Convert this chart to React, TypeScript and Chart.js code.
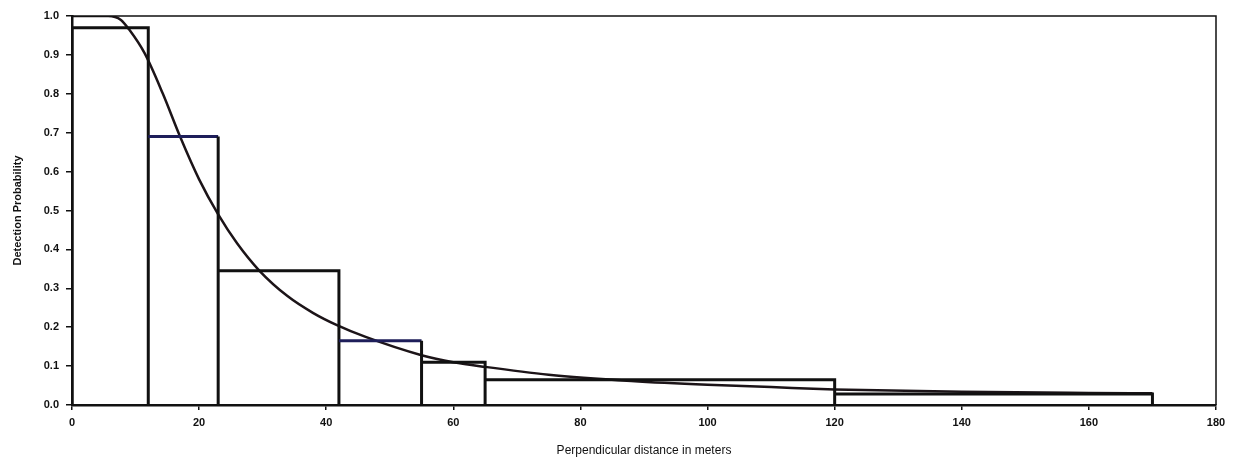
import React, { useEffect, useRef } from "react";
import { Chart, registerables } from "chart.js";

Chart.register(...registerables);

// Histogram bins (perpendicular distance, m) and observed detection proportions
const binEdges = [0, 12, 23, 42, 55, 65, 120, 170];
const binHeights = [0.97, 0.69, 0.345, 0.165, 0.11, 0.065, 0.028];
const tintedBins = [1, 3]; // bins whose top edge is printed in navy

// Fitted detection function
const curveX = [0, 5.7, 7.7, 9, 11.4, 14.3, 17, 20, 23, 26, 29.5, 33.9, 37.9, 41.6, 46.2, 55, 60, 65, 75, 88, 100, 110, 120, 140, 160, 170];
const curveY = [1.0, 1.0, 0.99, 0.965, 0.905, 0.8, 0.69, 0.58, 0.49, 0.415, 0.345, 0.28, 0.237, 0.206, 0.175, 0.128, 0.11, 0.098, 0.078, 0.062, 0.052, 0.046, 0.04, 0.034, 0.031, 0.03];

const xTicks = [0, 20, 40, 60, 80, 100, 120, 140, 160, 180];
const yTicks = [0, 0.1, 0.2, 0.3, 0.4, 0.5, 0.6, 0.7, 0.8, 0.9, 1.0];

const xTitle = "Perpendicular distance in meters";
const yTitle = "Detection Probability";

export default function App() {
  const ref = useRef<HTMLCanvasElement | null>(null);

  useEffect(() => {
    if (!ref.current) return;
    const histPoints: { x: number; y: number }[] = [];
    for (let i = 0; i < binHeights.length; i++) {
      histPoints.push({ x: binEdges[i], y: 0 });
      histPoints.push({ x: binEdges[i], y: binHeights[i] });
      histPoints.push({ x: binEdges[i + 1], y: binHeights[i] });
      histPoints.push({ x: binEdges[i + 1], y: 0 });
    }
    const curvePoints = curveX.map((x, i) => ({ x, y: curveY[i] }));

    const frame = {
      id: "frame",
      afterDatasetsDraw(chart: any) {
        const { ctx, chartArea } = chart;
        ctx.save();
        ctx.strokeStyle = "#111";
        ctx.lineWidth = 1.5;
        ctx.beginPath();
        ctx.moveTo(chartArea.left, chartArea.top);
        ctx.lineTo(chartArea.right, chartArea.top);
        ctx.lineTo(chartArea.right, chartArea.bottom);
        ctx.stroke();
        ctx.restore();
      },
    };

    const font = "Liberation Sans, Arial, sans-serif";

    const chart = new Chart(ref.current, {
      type: "scatter",
      data: {
        datasets: [
          {
            label: "histogram",
            data: histPoints,
            showLine: true,
            borderColor: "#111",
            borderWidth: 3,
            pointRadius: 0,
            tension: 0,
            borderJoinStyle: "miter",
            segment: {
              borderColor: (c: any) => {
                const i = c.p0DataIndex;
                const bin = Math.floor(i / 4);
                return i % 4 === 1 && tintedBins.includes(bin) ? "#1e1e5a" : "#111";
              },
            },
          } as any,
          {
            label: "curve",
            data: curvePoints,
            showLine: true,
            borderColor: "#1c1418",
            borderWidth: 2.5,
            pointRadius: 0,
            cubicInterpolationMode: "monotone",
          } as any,
        ],
      },
      options: {
        animation: false,
        responsive: false,
        maintainAspectRatio: false,
        layout: { padding: { left: 0, top: 16, right: 26, bottom: 0 } },
        plugins: { legend: { display: false }, tooltip: { enabled: false } },
        scales: {
          x: {
            type: "linear",
            min: 0,
            max: 180,
            afterBuildTicks: (s: any) => {
              s.ticks = xTicks.map((v) => ({ value: v }));
            },
            afterFit: (s: any) => {
              s.height = 59;
            },
            border: { display: true, color: "#111", width: 2.5 },
            grid: { drawOnChartArea: false, drawTicks: true, tickLength: 5, color: "#111", lineWidth: 1.5 },
            ticks: {
              color: "#111",
              padding: 6,
              font: { family: font, size: 11, weight: "bold" },
              maxRotation: 0,
              callback: (v: any) => String(v),
            },
            title: {
              display: true,
              text: xTitle,
              color: "#111",
              font: { family: font, size: 12 },
              padding: { top: 4, bottom: 6 },
            },
          },
          y: {
            type: "linear",
            min: 0,
            max: 1,
            afterBuildTicks: (s: any) => {
              s.ticks = yTicks.map((v) => ({ value: v }));
            },
            afterFit: (s: any) => {
              s.width = 72;
            },
            border: { display: true, color: "#111", width: 2.5 },
            grid: { drawOnChartArea: false, drawTicks: true, tickLength: 6, color: "#111", lineWidth: 1.5 },
            ticks: {
              color: "#111",
              padding: 7,
              font: { family: font, size: 11, weight: "bold" },
              callback: (v: any) => Number(v).toFixed(1),
            },
            title: {
              display: true,
              text: yTitle,
              color: "#111",
              font: { family: font, size: 11, weight: "bold" },
              padding: { top: 11, bottom: 0 },
            },
          },
        },
      },
      plugins: [frame],
    } as any);

    return () => chart.destroy();
  }, []);

  return (
    <div style={{ position: "fixed", left: 0, top: 0, width: 1242, height: 464, background: "#fff" }}>
      <canvas ref={ref} width={1242} height={464} style={{ display: "block", width: 1242, height: 464 }} />
    </div>
  );
}
